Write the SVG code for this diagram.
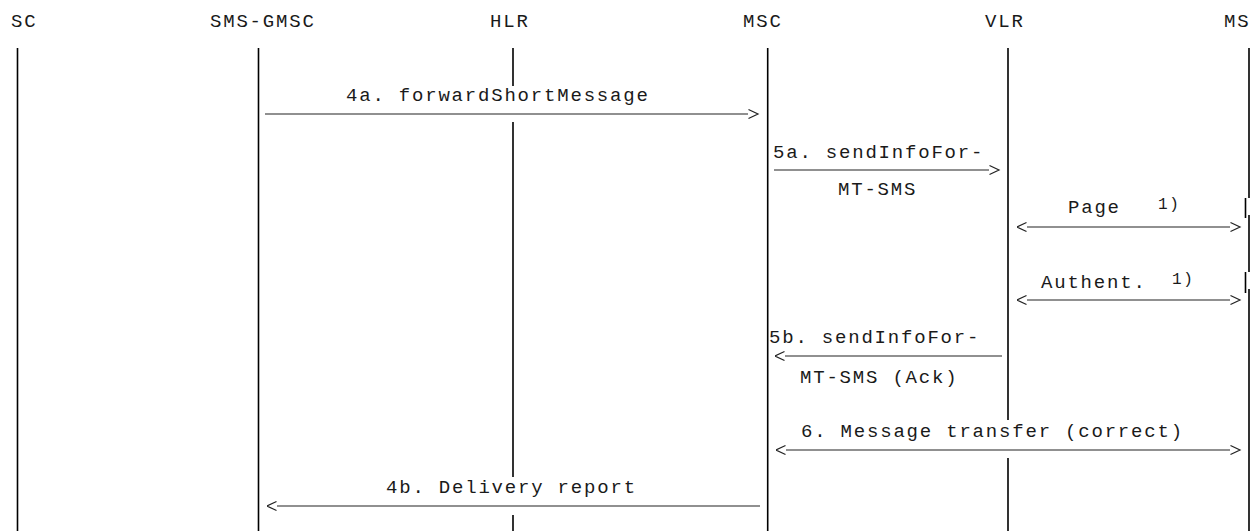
<svg xmlns="http://www.w3.org/2000/svg" width="1255" height="531" viewBox="0 0 1255 531">
  <style>
    text { font-family: "Liberation Mono", "DejaVu Sans Mono", monospace; font-size: 19px; letter-spacing: 1.8px; fill: #1a1a1a; }
    text.sup { font-size: 16px; letter-spacing: 1.6px; }
    .life { stroke: #000; stroke-width: 1.6; fill: none; }
    .msg { stroke: #222; stroke-width: 1.2; fill: none; }
    .r { marker-end: url(#ahR); }
    .l { marker-start: url(#ahL); }
  </style>
  <defs>
    <marker id="ahR" markerUnits="userSpaceOnUse" markerWidth="12" markerHeight="12" refX="0" refY="5" orient="0" viewBox="0 0 12 10">
      <path d="M0.5,0.5 L10,5 L0.5,9.5" fill="none" stroke="#222" stroke-width="1.2"/>
    </marker>
    <marker id="ahL" markerUnits="userSpaceOnUse" markerWidth="12" markerHeight="12" refX="10" refY="5" orient="0" viewBox="0 0 12 10">
      <path d="M9.5,0.5 L0,5 L9.5,9.5" fill="none" stroke="#222" stroke-width="1.2"/>
    </marker>
  </defs>
  <rect width="1255" height="531" fill="#fff"/>

  <g id="node-sc">
    <text x="11" y="27">SC</text>
    <line class="life" x1="17.5" y1="48" x2="17.5" y2="531"/>
  </g>
  <g id="node-smsgmsc">
    <text x="210" y="27">SMS-GMSC</text>
    <line class="life" x1="258.5" y1="48" x2="258.5" y2="531"/>
  </g>
  <g id="node-hlr">
    <text x="490" y="27">HLR</text>
    <path class="life" d="M513,48 V86 M513,122 V477 M513,515 V531"/>
  </g>
  <g id="node-msc">
    <text x="743" y="27">MSC</text>
    <line class="life" x1="767.7" y1="48" x2="767.7" y2="531"/>
  </g>
  <g id="node-vlr">
    <text x="985" y="27">VLR</text>
    <path class="life" d="M1008,48 V420 M1008,458 V531"/>
  </g>
  <g id="node-ms">
    <text x="1224" y="27">MS</text>
    <path class="life" d="M1249,48 V198 M1249,215 V272 M1249,289 V531 M1245.5,198 V218 M1245.5,272 V293"/>
  </g>

  <g id="connectors">
    <g id="msg-4a">
      <line class="msg r" x1="265" y1="114" x2="748" y2="114"/>
      <text x="346" y="101">4a. forwardShortMessage</text>
    </g>
    <g id="msg-5a">
      <line class="msg r" x1="774" y1="170" x2="989" y2="170"/>
      <text x="773" y="158">5a. sendInfoFor-</text>
      <text x="838" y="195">MT-SMS</text>
    </g>
    <g id="msg-page">
      <line class="msg l r" x1="1027" y1="227" x2="1230" y2="227"/>
      <text x="1068" y="213">Page</text>
      <text class="sup" x="1158" y="209">1)</text>
    </g>
    <g id="msg-authent">
      <line class="msg l r" x1="1027" y1="300" x2="1230" y2="300"/>
      <text x="1041" y="288">Authent.</text>
      <text class="sup" x="1172" y="284">1)</text>
    </g>
    <g id="msg-5b">
      <line class="msg l" x1="785" y1="356" x2="1002" y2="356"/>
      <text x="769" y="343">5b. sendInfoFor-</text>
      <text x="800" y="383">MT-SMS (Ack)</text>
    </g>
    <g id="msg-6">
      <line class="msg l r" x1="786" y1="450" x2="1230" y2="450"/>
      <text x="801" y="437">6. Message transfer (correct)</text>
    </g>
    <g id="msg-4b">
      <line class="msg l" x1="277" y1="506" x2="760" y2="506"/>
      <text x="386" y="493">4b. Delivery report</text>
    </g>
  </g>
</svg>
